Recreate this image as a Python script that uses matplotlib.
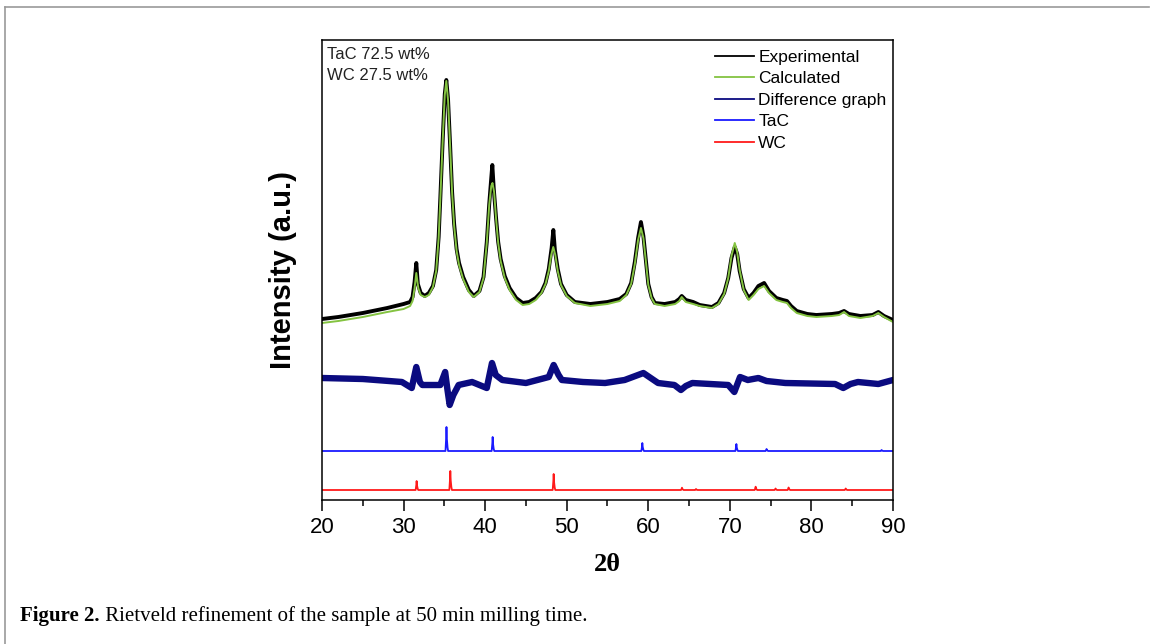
import matplotlib
matplotlib.use("Agg")
import matplotlib.pyplot as plt
from matplotlib.lines import Line2D
import numpy as np

# ---------------- data (intensity in arbitrary units) ----------------
calc_pts = [(20, 177), (22, 179), (25, 183), (28, 188), (30, 191), (30.8, 194), (31.1, 199), (31.35, 212),
            (31.56, 227), (31.8, 212), (32.1, 205), (32.6, 203), (33.1, 205), (33.6, 213), (34.0, 229),
            (34.3, 262), (34.5, 300), (34.8, 360), (35.05, 405), (35.24, 419), (35.45, 400), (35.7, 355),
            (35.95, 307), (36.2, 274), (36.5, 249), (36.8, 235), (37.3, 221), (38.0, 208), (38.6, 203),
            (39.3, 208), (39.8, 222), (40.2, 257), (40.5, 295), (40.75, 314), (40.9, 317), (41.1, 308),
            (41.35, 280), (41.6, 257), (41.9, 239), (42.4, 222), (43.0, 210), (43.8, 200), (44.6, 195),
            (45.4, 196), (46.2, 200), (46.9, 207), (47.4, 216), (47.8, 229), (48.1, 245), (48.35, 253),
            (48.6, 245), (48.9, 229), (49.3, 215), (50.0, 204), (51.0, 197), (52.9, 194), (55.0, 196),
            (56.5, 199), (57.3, 205), (57.9, 216), (58.35, 236), (58.75, 260), (59.1, 272), (59.4, 262),
            (59.7, 239), (60.0, 215), (60.4, 202), (60.8, 196), (62.0, 194), (63.3, 196), (63.8, 199),
            (64.1, 203), (64.6, 198), (65.5, 196), (66.3, 194), (67.8, 192), (68.6, 196), (69.3, 206),
            (69.8, 222), (70.2, 244), (70.6, 257), (70.9, 248), (71.2, 230), (71.7, 210), (72.3, 200),
            (72.9, 205), (73.5, 211), (74.2, 214), (74.8, 207), (75.7, 200), (76.5, 198), (77.0, 197),
            (77.5, 192), (78.2, 187), (79.5, 184), (80.6, 183), (82.5, 184), (83.4, 185), (84.0, 188),
            (84.6, 184), (86.0, 182), (87.5, 184), (88.2, 187), (88.9, 183), (90, 178)]

exp_pts = [(20, 181), (22, 183), (25, 187), (28, 192), (30, 196), (30.8, 198), (31.1, 203), (31.35, 218),
           (31.56, 237), (31.75, 216), (32.1, 207), (32.6, 204), (33.1, 207), (33.6, 214), (34.0, 230),
           (34.3, 263), (34.5, 301), (34.8, 361), (35.05, 406), (35.24, 420), (35.45, 401), (35.7, 356),
           (35.95, 308), (36.2, 276), (36.5, 251), (36.8, 237), (37.3, 223), (38.0, 210), (38.6, 204),
           (39.3, 209), (39.8, 223), (40.2, 258), (40.5, 296), (40.75, 322), (40.88, 335), (41.05, 312),
           (41.35, 281), (41.6, 258), (41.9, 241), (42.4, 224), (43.0, 212), (43.8, 202), (44.6, 197),
           (45.4, 198), (46.2, 202), (46.9, 208), (47.4, 217), (47.8, 231), (48.15, 252), (48.36, 270),
           (48.55, 250), (48.9, 231), (49.3, 216), (50.0, 205), (51.0, 198), (52.9, 196), (55.0, 198),
           (56.5, 201), (57.3, 206), (57.9, 217), (58.35, 238), (58.75, 262), (59.1, 278), (59.4, 264),
           (59.7, 240), (60.0, 216), (60.4, 203), (60.8, 197), (62.0, 196), (63.3, 198), (63.8, 201),
           (64.1, 204), (64.6, 200), (65.5, 198), (66.3, 195), (67.8, 193), (68.6, 197), (69.3, 207),
           (69.8, 222), (70.2, 242), (70.6, 253), (70.9, 246), (71.2, 229), (71.7, 211), (72.3, 202),
           (72.9, 207), (73.5, 214), (74.2, 217), (74.8, 209), (75.7, 202), (76.5, 200), (77.0, 199),
           (77.5, 194), (78.2, 189), (79.5, 186), (80.6, 185), (82.5, 186), (83.4, 187), (84.0, 189),
           (84.6, 186), (86.0, 184), (87.5, 185), (88.2, 188), (88.9, 184), (90, 180)]

diff_pts = [(20, 122), (25, 121), (29.8, 118), (31.0, 112), (31.56, 133), (32.0, 118), (32.3, 115),
            (34.5, 115), (35.1, 128), (35.35, 112), (35.65, 95), (36.1, 105), (36.75, 115), (38.4, 118),
            (40.2, 112), (40.84, 137), (41.3, 125), (42.1, 120), (45.0, 117), (47.8, 123), (48.4, 135),
            (49.0, 125), (49.4, 120), (52.0, 118), (54.7, 117), (57.1, 120), (59.4, 127), (60.3, 122),
            (61.2, 117), (63.2, 115), (64.0, 110), (64.6, 114), (65.4, 117), (69.8, 115), (70.55, 108),
            (71.25, 123), (72.2, 120), (73.5, 122), (74.5, 119), (76.8, 117), (82.9, 116), (83.9, 112),
            (84.8, 116), (85.7, 118), (88.2, 116), (90, 120)]

tac_base = 49
tac_pos = [35.26, 40.92, 59.27, 70.8, 74.5, 88.6]
tac_height = [24, 14, 8, 7, 2, 1]

wc_base = 10
wc_pos = [31.6, 35.73, 48.4, 64.13, 65.85, 73.16, 75.6, 77.2, 84.2]
wc_height = [9, 19, 16, 2.3, 1, 3.3, 1.5, 2.5, 1.5]

x_ticks = [20, 30, 40, 50, 60, 70, 80, 90]
legend_labels = ["Experimental", "Calculated", "Difference graph", "TaC", "WC"]
composition = ["TaC 72.5 wt%", "WC 27.5 wt%"]
caption_bold = "Figure 2."
caption_text = " Rietveld refinement of the sample at 50 min milling time."

# ---------------- styles ----------------
c_exp = "#000000"
c_calc = "#84c341"
c_diff = "#0b0b80"
c_tac = "#1a1aff"
c_wc = "#ff1a1a"
sans = ["Liberation Sans", "DejaVu Sans"]
serif = ["Liberation Serif", "DejaVu Serif"]


def peak_line(base, pos, heights, x0=20, x1=90):
    xs, ys = [x0], [base]
    for c, h in sorted(zip(pos, heights)):
        xs += [c - 0.12, c - 0.04, c, c + 0.05, c + 0.13, c + 0.2]
        ys += [base, base + 0.55 * h, base + h, base + 0.5 * h, base + 0.15 * h, base]
    xs.append(x1)
    ys.append(base)
    return xs, ys


fig = plt.figure(figsize=(11.54, 6.44), dpi=100)
ax = fig.add_axes([322 / 1154, 1 - 500 / 644, (893 - 322) / 1154, (500 - 40) / 644])

ex, ey = zip(*exp_pts)
cx, cy = zip(*calc_pts)
dx, dy = zip(*diff_pts)
tx, ty = peak_line(tac_base, tac_pos, tac_height)
wx, wy = peak_line(wc_base, wc_pos, wc_height)

ax.plot(ex, ey, color=c_exp, lw=2.8, solid_joinstyle="round", label=legend_labels[0])
ax.plot(cx, cy, color=c_calc, lw=1.4, label=legend_labels[1])
ax.plot(dx, dy, color=c_diff, lw=4.6, solid_joinstyle="round", label=legend_labels[2])
ax.plot(tx, ty, color=c_tac, lw=1.3, label=legend_labels[3])
ax.plot(wx, wy, color=c_wc, lw=1.3, label=legend_labels[4])

ax.set_xlim(20, 90)
ax.set_ylim(0, 460)
ax.set_xticks(x_ticks)
ax.set_xticks(np.arange(25, 90, 10), minor=True)
ax.set_yticks([])
ax.tick_params(axis="x", which="major", direction="out", length=8, width=1.1, pad=4, labelsize=16)
ax.tick_params(axis="x", which="minor", direction="out", length=4.5, width=1.1)
for lab in ax.get_xticklabels():
    lab.set_family(sans)
for s in ax.spines.values():
    s.set_linewidth(1.1)

ax.set_xlabel("2θ", fontsize=19, fontweight="bold", family=serif, labelpad=11)
ax.set_ylabel("Intensity (a.u.)", fontsize=21, fontweight="bold", family=sans, labelpad=18)

for i, t in enumerate(composition):
    ax.text(0.009, 0.985 - i * 0.045, t, transform=ax.transAxes, ha="left", va="top",
            fontsize=12, family=sans, color="#222222")

leg_handles = [Line2D([], [], color=c, lw=1.3) for c in [c_exp, c_calc, c_diff, c_tac, c_wc]]
ax.legend(leg_handles, legend_labels, loc="upper left", bbox_to_anchor=(0.685, 0.983),
          frameon=False, borderpad=0.1, borderaxespad=0, handlelength=2.25, handletextpad=0.25,
          labelspacing=0.37, prop={"family": sans, "size": 12.5})

# caption
t1 = fig.text(20 / 1154, 1 - 616 / 644, caption_bold, fontsize=15, fontweight="bold", family=serif,
              va="center", ha="left")
fig.canvas.draw()
bb = t1.get_window_extent()
fig.text(bb.x1 / 1154, 1 - 616 / 644, caption_text, fontsize=15, family=serif, va="center", ha="left")

# page frame
fig.add_artist(Line2D([5 / 1154, 5 / 1154], [0, 1 - 7 / 644], color="#9a9a9a", lw=1.2))
fig.add_artist(Line2D([5 / 1154, 1149 / 1154], [1 - 7 / 644, 1 - 7 / 644], color="#9a9a9a", lw=1.2))

fig.savefig("out.png", dpi=100)
